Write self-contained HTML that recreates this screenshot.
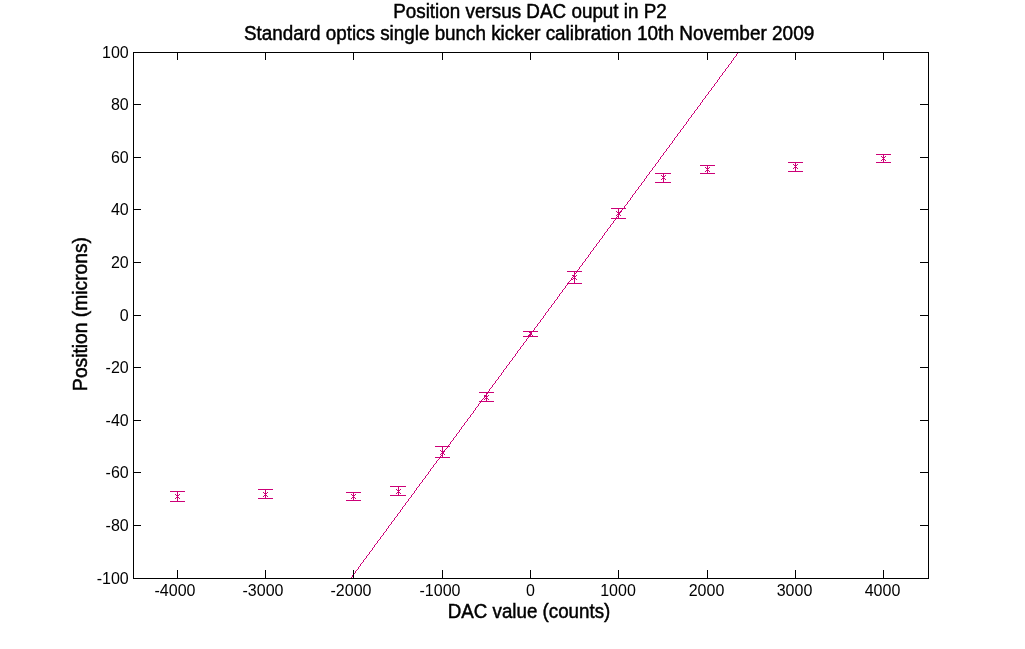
<!DOCTYPE html>
<html><head><meta charset="utf-8"><style>
html,body{margin:0;padding:0;background:#fff;width:1025px;height:649px;overflow:hidden}
svg{display:block;will-change:transform}
text{font-family:"Liberation Sans",sans-serif;fill:#000}
</style></head><body>
<svg width="1025" height="649" viewBox="0 0 1025 649">
<rect x="0" y="0" width="1025" height="649" fill="#fff"/>

<path d="M737 53h1v1h-1zM736 54h1v1h-1zM736 55h1v1h-1zM735 56h1v1h-1zM734 57h1v1h-1zM733 58h1v1h-1zM733 59h1v1h-1zM732 60h1v1h-1zM731 61h1v1h-1zM731 62h1v1h-1zM730 63h1v1h-1zM729 64h1v1h-1zM728 65h1v1h-1zM728 66h1v1h-1zM727 67h1v1h-1zM726 68h1v1h-1zM725 69h1v1h-1zM725 70h1v1h-1zM724 71h1v1h-1zM723 72h1v1h-1zM722 73h1v1h-1zM722 74h1v1h-1zM721 75h1v1h-1zM720 76h1v1h-1zM719 77h1v1h-1zM719 78h1v1h-1zM718 79h1v1h-1zM717 80h1v1h-1zM717 81h1v1h-1zM716 82h1v1h-1zM715 83h1v1h-1zM714 84h1v1h-1zM714 85h1v1h-1zM713 86h1v1h-1zM712 87h1v1h-1zM711 88h1v1h-1zM711 89h1v1h-1zM710 90h1v1h-1zM709 91h1v1h-1zM708 92h1v1h-1zM708 93h1v1h-1zM707 94h1v1h-1zM706 95h1v1h-1zM705 96h1v1h-1zM705 97h1v1h-1zM704 98h1v1h-1zM703 99h1v1h-1zM702 100h1v1h-1zM702 101h1v1h-1zM701 102h1v1h-1zM700 103h1v1h-1zM700 104h1v1h-1zM699 105h1v1h-1zM698 106h1v1h-1zM697 107h1v1h-1zM697 108h1v1h-1zM696 109h1v1h-1zM695 110h1v1h-1zM694 111h1v1h-1zM694 112h1v1h-1zM693 113h1v1h-1zM692 114h1v1h-1zM691 115h1v1h-1zM691 116h1v1h-1zM690 117h1v1h-1zM689 118h1v1h-1zM688 119h1v1h-1zM688 120h1v1h-1zM687 121h1v1h-1zM686 122h1v1h-1zM686 123h1v1h-1zM685 124h1v1h-1zM684 125h1v1h-1zM683 126h1v1h-1zM683 127h1v1h-1zM682 128h1v1h-1zM681 129h1v1h-1zM680 130h1v1h-1zM680 131h1v1h-1zM679 132h1v1h-1zM678 133h1v1h-1zM677 134h1v1h-1zM677 135h1v1h-1zM676 136h1v1h-1zM675 137h1v1h-1zM674 138h1v1h-1zM674 139h1v1h-1zM673 140h1v1h-1zM672 141h1v1h-1zM672 142h1v1h-1zM671 143h1v1h-1zM670 144h1v1h-1zM669 145h1v1h-1zM669 146h1v1h-1zM668 147h1v1h-1zM667 148h1v1h-1zM666 149h1v1h-1zM666 150h1v1h-1zM665 151h1v1h-1zM664 152h1v1h-1zM663 153h1v1h-1zM663 154h1v1h-1zM662 155h1v1h-1zM661 156h1v1h-1zM660 157h1v1h-1zM660 158h1v1h-1zM659 159h1v1h-1zM658 160h1v1h-1zM658 161h1v1h-1zM657 162h1v1h-1zM656 163h1v1h-1zM655 164h1v1h-1zM655 165h1v1h-1zM654 166h1v1h-1zM653 167h1v1h-1zM652 168h1v1h-1zM652 169h1v1h-1zM651 170h1v1h-1zM650 171h1v1h-1zM649 172h1v1h-1zM649 173h1v1h-1zM648 174h1v1h-1zM647 175h1v1h-1zM646 176h1v1h-1zM646 177h1v1h-1zM645 178h1v1h-1zM644 179h1v1h-1zM644 180h1v1h-1zM643 181h1v1h-1zM642 182h1v1h-1zM641 183h1v1h-1zM641 184h1v1h-1zM640 185h1v1h-1zM639 186h1v1h-1zM638 187h1v1h-1zM638 188h1v1h-1zM637 189h1v1h-1zM636 190h1v1h-1zM635 191h1v1h-1zM635 192h1v1h-1zM634 193h1v1h-1zM633 194h1v1h-1zM632 195h1v1h-1zM632 196h1v1h-1zM631 197h1v1h-1zM630 198h1v1h-1zM630 199h1v1h-1zM629 200h1v1h-1zM628 201h1v1h-1zM627 202h1v1h-1zM627 203h1v1h-1zM626 204h1v1h-1zM625 205h1v1h-1zM624 206h1v1h-1zM624 207h1v1h-1zM623 208h1v1h-1zM622 209h1v1h-1zM621 210h1v1h-1zM621 211h1v1h-1zM620 212h1v1h-1zM619 213h1v1h-1zM618 214h1v1h-1zM618 215h1v1h-1zM617 216h1v1h-1zM616 217h1v1h-1zM616 218h1v1h-1zM615 219h1v1h-1zM614 220h1v1h-1zM613 221h1v1h-1zM613 222h1v1h-1zM612 223h1v1h-1zM611 224h1v1h-1zM610 225h1v1h-1zM610 226h1v1h-1zM609 227h1v1h-1zM608 228h1v1h-1zM607 229h1v1h-1zM607 230h1v1h-1zM606 231h1v1h-1zM605 232h1v1h-1zM604 233h1v1h-1zM604 234h1v1h-1zM603 235h1v1h-1zM602 236h1v1h-1zM602 237h1v1h-1zM601 238h1v1h-1zM600 239h1v1h-1zM599 240h1v1h-1zM599 241h1v1h-1zM598 242h1v1h-1zM597 243h1v1h-1zM596 244h1v1h-1zM596 245h1v1h-1zM595 246h1v1h-1zM594 247h1v1h-1zM593 248h1v1h-1zM593 249h1v1h-1zM592 250h1v1h-1zM591 251h1v1h-1zM590 252h1v1h-1zM590 253h1v1h-1zM589 254h1v1h-1zM588 255h1v1h-1zM588 256h1v1h-1zM587 257h1v1h-1zM586 258h1v1h-1zM585 259h1v1h-1zM585 260h1v1h-1zM584 261h1v1h-1zM583 262h1v1h-1zM582 263h1v1h-1zM582 264h1v1h-1zM581 265h1v1h-1zM580 266h1v1h-1zM579 267h1v1h-1zM579 268h1v1h-1zM578 269h1v1h-1zM577 270h1v1h-1zM576 271h1v1h-1zM576 272h1v1h-1zM575 273h1v1h-1zM574 274h1v1h-1zM573 275h1v1h-1zM573 276h1v1h-1zM572 277h1v1h-1zM571 278h1v1h-1zM571 279h1v1h-1zM570 280h1v1h-1zM569 281h1v1h-1zM568 282h1v1h-1zM568 283h1v1h-1zM567 284h1v1h-1zM566 285h1v1h-1zM565 286h1v1h-1zM565 287h1v1h-1zM564 288h1v1h-1zM563 289h1v1h-1zM562 290h1v1h-1zM562 291h1v1h-1zM561 292h1v1h-1zM560 293h1v1h-1zM559 294h1v1h-1zM559 295h1v1h-1zM558 296h1v1h-1zM557 297h1v1h-1zM557 298h1v1h-1zM556 299h1v1h-1zM555 300h1v1h-1zM554 301h1v1h-1zM554 302h1v1h-1zM553 303h1v1h-1zM552 304h1v1h-1zM551 305h1v1h-1zM551 306h1v1h-1zM550 307h1v1h-1zM549 308h1v1h-1zM548 309h1v1h-1zM548 310h1v1h-1zM547 311h1v1h-1zM546 312h1v1h-1zM545 313h1v1h-1zM545 314h1v1h-1zM544 315h1v1h-1zM543 316h1v1h-1zM543 317h1v1h-1zM542 318h1v1h-1zM541 319h1v1h-1zM540 320h1v1h-1zM540 321h1v1h-1zM539 322h1v1h-1zM538 323h1v1h-1zM537 324h1v1h-1zM537 325h1v1h-1zM536 326h1v1h-1zM535 327h1v1h-1zM534 328h1v1h-1zM534 329h1v1h-1zM533 330h1v1h-1zM532 331h1v1h-1zM531 332h1v1h-1zM531 333h1v1h-1zM530 334h1v1h-1zM529 335h1v1h-1zM529 336h1v1h-1zM528 337h1v1h-1zM527 338h1v1h-1zM526 339h1v1h-1zM526 340h1v1h-1zM525 341h1v1h-1zM524 342h1v1h-1zM523 343h1v1h-1zM523 344h1v1h-1zM522 345h1v1h-1zM521 346h1v1h-1zM520 347h1v1h-1zM520 348h1v1h-1zM519 349h1v1h-1zM518 350h1v1h-1zM517 351h1v1h-1zM517 352h1v1h-1zM516 353h1v1h-1zM515 354h1v1h-1zM515 355h1v1h-1zM514 356h1v1h-1zM513 357h1v1h-1zM512 358h1v1h-1zM512 359h1v1h-1zM511 360h1v1h-1zM510 361h1v1h-1zM509 362h1v1h-1zM509 363h1v1h-1zM508 364h1v1h-1zM507 365h1v1h-1zM506 366h1v1h-1zM506 367h1v1h-1zM505 368h1v1h-1zM504 369h1v1h-1zM503 370h1v1h-1zM503 371h1v1h-1zM502 372h1v1h-1zM501 373h1v1h-1zM501 374h1v1h-1zM500 375h1v1h-1zM499 376h1v1h-1zM498 377h1v1h-1zM498 378h1v1h-1zM497 379h1v1h-1zM496 380h1v1h-1zM495 381h1v1h-1zM495 382h1v1h-1zM494 383h1v1h-1zM493 384h1v1h-1zM492 385h1v1h-1zM492 386h1v1h-1zM491 387h1v1h-1zM490 388h1v1h-1zM489 389h1v1h-1zM489 390h1v1h-1zM488 391h1v1h-1zM487 392h1v1h-1zM487 393h1v1h-1zM486 394h1v1h-1zM485 395h1v1h-1zM484 396h1v1h-1zM484 397h1v1h-1zM483 398h1v1h-1zM482 399h1v1h-1zM481 400h1v1h-1zM481 401h1v1h-1zM480 402h1v1h-1zM479 403h1v1h-1zM478 404h1v1h-1zM478 405h1v1h-1zM477 406h1v1h-1zM476 407h1v1h-1zM475 408h1v1h-1zM475 409h1v1h-1zM474 410h1v1h-1zM473 411h1v1h-1zM473 412h1v1h-1zM472 413h1v1h-1zM471 414h1v1h-1zM470 415h1v1h-1zM470 416h1v1h-1zM469 417h1v1h-1zM468 418h1v1h-1zM467 419h1v1h-1zM467 420h1v1h-1zM466 421h1v1h-1zM465 422h1v1h-1zM464 423h1v1h-1zM464 424h1v1h-1zM463 425h1v1h-1zM462 426h1v1h-1zM461 427h1v1h-1zM461 428h1v1h-1zM460 429h1v1h-1zM459 430h1v1h-1zM459 431h1v1h-1zM458 432h1v1h-1zM457 433h1v1h-1zM456 434h1v1h-1zM456 435h1v1h-1zM455 436h1v1h-1zM454 437h1v1h-1zM453 438h1v1h-1zM453 439h1v1h-1zM452 440h1v1h-1zM451 441h1v1h-1zM450 442h1v1h-1zM450 443h1v1h-1zM449 444h1v1h-1zM448 445h1v1h-1zM447 446h1v1h-1zM447 447h1v1h-1zM446 448h1v1h-1zM445 449h1v1h-1zM444 450h1v1h-1zM444 451h1v1h-1zM443 452h1v1h-1zM442 453h1v1h-1zM442 454h1v1h-1zM441 455h1v1h-1zM440 456h1v1h-1zM439 457h1v1h-1zM439 458h1v1h-1zM438 459h1v1h-1zM437 460h1v1h-1zM436 461h1v1h-1zM436 462h1v1h-1zM435 463h1v1h-1zM434 464h1v1h-1zM433 465h1v1h-1zM433 466h1v1h-1zM432 467h1v1h-1zM431 468h1v1h-1zM430 469h1v1h-1zM430 470h1v1h-1zM429 471h1v1h-1zM428 472h1v1h-1zM428 473h1v1h-1zM427 474h1v1h-1zM426 475h1v1h-1zM425 476h1v1h-1zM425 477h1v1h-1zM424 478h1v1h-1zM423 479h1v1h-1zM422 480h1v1h-1zM422 481h1v1h-1zM421 482h1v1h-1zM420 483h1v1h-1zM419 484h1v1h-1zM419 485h1v1h-1zM418 486h1v1h-1zM417 487h1v1h-1zM416 488h1v1h-1zM416 489h1v1h-1zM415 490h1v1h-1zM414 491h1v1h-1zM414 492h1v1h-1zM413 493h1v1h-1zM412 494h1v1h-1zM411 495h1v1h-1zM411 496h1v1h-1zM410 497h1v1h-1zM409 498h1v1h-1zM408 499h1v1h-1zM408 500h1v1h-1zM407 501h1v1h-1zM406 502h1v1h-1zM405 503h1v1h-1zM405 504h1v1h-1zM404 505h1v1h-1zM403 506h1v1h-1zM402 507h1v1h-1zM402 508h1v1h-1zM401 509h1v1h-1zM400 510h1v1h-1zM400 511h1v1h-1zM399 512h1v1h-1zM398 513h1v1h-1zM397 514h1v1h-1zM397 515h1v1h-1zM396 516h1v1h-1zM395 517h1v1h-1zM394 518h1v1h-1zM394 519h1v1h-1zM393 520h1v1h-1zM392 521h1v1h-1zM391 522h1v1h-1zM391 523h1v1h-1zM390 524h1v1h-1zM389 525h1v1h-1zM388 526h1v1h-1zM388 527h1v1h-1zM387 528h1v1h-1zM386 529h1v1h-1zM386 530h1v1h-1zM385 531h1v1h-1zM384 532h1v1h-1zM383 533h1v1h-1zM383 534h1v1h-1zM382 535h1v1h-1zM381 536h1v1h-1zM380 537h1v1h-1zM380 538h1v1h-1zM379 539h1v1h-1zM378 540h1v1h-1zM377 541h1v1h-1zM377 542h1v1h-1zM376 543h1v1h-1zM375 544h1v1h-1zM374 545h1v1h-1zM374 546h1v1h-1zM373 547h1v1h-1zM372 548h1v1h-1zM372 549h1v1h-1zM371 550h1v1h-1zM370 551h1v1h-1zM369 552h1v1h-1zM369 553h1v1h-1zM368 554h1v1h-1zM367 555h1v1h-1zM366 556h1v1h-1zM366 557h1v1h-1zM365 558h1v1h-1zM364 559h1v1h-1zM363 560h1v1h-1zM363 561h1v1h-1zM362 562h1v1h-1zM361 563h1v1h-1zM360 564h1v1h-1zM360 565h1v1h-1zM359 566h1v1h-1zM358 567h1v1h-1zM358 568h1v1h-1zM357 569h1v1h-1zM356 570h1v1h-1zM355 571h1v1h-1zM355 572h1v1h-1zM354 573h1v1h-1zM353 574h1v1h-1zM352 575h1v1h-1zM352 576h1v1h-1zM351 577h1v1h-1z" fill="#CC0077" shape-rendering="crispEdges"/>
<path d="M177.5 491.5V501.5M170 491.5H185M170 501.5H185M265.5 489.5V498.5M258 489.5H273M258 498.5H273M353.5 492.5V500.5M346 492.5H361M346 500.5H361M398.5 486.5V495.5M390 486.5H406M390 495.5H406M442.5 446.5V457.5M435 446.5H450M435 457.5H450M486.5 392.5V401.5M479 392.5H494M479 401.5H494M530.5 331.5V336.5M523 331.5H538M523 336.5H538M574.5 271.5V283.5M567 271.5H582M567 283.5H582M618.5 208.5V218.5M611 208.5H626M611 218.5H626M663.5 173.5V182.5M655 173.5H671M655 182.5H671M707.5 165.5V173.5M700 165.5H715M700 173.5H715M795.5 162.5V171.5M788 162.5H803M788 171.5H803M883.5 154.5V162.5M876 154.5H891M876 162.5H891" stroke="#CC0077" stroke-width="1" fill="none" shape-rendering="crispEdges"/>
<g fill="#CC0077" shape-rendering="crispEdges"><rect x="795" y="166" width="1" height="1"/><rect x="665" y="175" width="1" height="1"/><rect x="488" y="399" width="1" height="1"/><rect x="440" y="450" width="1" height="1"/><rect x="351" y="494" width="1" height="1"/><rect x="572" y="279" width="1" height="1"/><rect x="484" y="395" width="1" height="1"/><rect x="881" y="156" width="1" height="1"/><rect x="882" y="157" width="1" height="1"/><rect x="441" y="451" width="1" height="1"/><rect x="178" y="495" width="1" height="1"/><rect x="179" y="494" width="1" height="1"/><rect x="354" y="495" width="1" height="1"/><rect x="884" y="157" width="1" height="1"/><rect x="443" y="451" width="1" height="1"/><rect x="177" y="496" width="1" height="1"/><rect x="400" y="489" width="1" height="1"/><rect x="793" y="164" width="1" height="1"/><rect x="882" y="159" width="1" height="1"/><rect x="797" y="164" width="1" height="1"/><rect x="441" y="453" width="1" height="1"/><rect x="442" y="452" width="1" height="1"/><rect x="619" y="212" width="1" height="1"/><rect x="665" y="179" width="1" height="1"/><rect x="398" y="491" width="1" height="1"/><rect x="620" y="211" width="1" height="1"/><rect x="354" y="497" width="1" height="1"/><rect x="884" y="159" width="1" height="1"/><rect x="661" y="175" width="1" height="1"/><rect x="796" y="165" width="1" height="1"/><rect x="440" y="454" width="1" height="1"/><rect x="443" y="453" width="1" height="1"/><rect x="484" y="399" width="1" height="1"/><rect x="485" y="398" width="1" height="1"/><rect x="444" y="454" width="1" height="1"/><rect x="662" y="176" width="1" height="1"/><rect x="619" y="214" width="1" height="1"/><rect x="179" y="498" width="1" height="1"/><rect x="355" y="498" width="1" height="1"/><rect x="528" y="331" width="1" height="1"/><rect x="885" y="160" width="1" height="1"/><rect x="796" y="167" width="1" height="1"/><rect x="664" y="176" width="1" height="1"/><rect x="175" y="494" width="1" height="1"/><rect x="662" y="178" width="1" height="1"/><rect x="797" y="168" width="1" height="1"/><rect x="663" y="177" width="1" height="1"/><rect x="396" y="489" width="1" height="1"/><rect x="620" y="215" width="1" height="1"/><rect x="532" y="331" width="1" height="1"/><rect x="661" y="179" width="1" height="1"/><rect x="616" y="211" width="1" height="1"/><rect x="705" y="167" width="1" height="1"/><rect x="399" y="490" width="1" height="1"/><rect x="709" y="167" width="1" height="1"/><rect x="617" y="212" width="1" height="1"/><rect x="573" y="276" width="1" height="1"/><rect x="397" y="490" width="1" height="1"/><rect x="178" y="497" width="1" height="1"/><rect x="794" y="165" width="1" height="1"/><rect x="707" y="169" width="1" height="1"/><rect x="708" y="168" width="1" height="1"/><rect x="175" y="498" width="1" height="1"/><rect x="264" y="493" width="1" height="1"/><rect x="351" y="498" width="1" height="1"/><rect x="881" y="160" width="1" height="1"/><rect x="399" y="492" width="1" height="1"/><rect x="618" y="213" width="1" height="1"/><rect x="397" y="492" width="1" height="1"/><rect x="532" y="335" width="1" height="1"/><rect x="266" y="493" width="1" height="1"/><rect x="267" y="492" width="1" height="1"/><rect x="794" y="167" width="1" height="1"/><rect x="708" y="170" width="1" height="1"/><rect x="616" y="215" width="1" height="1"/><rect x="264" y="495" width="1" height="1"/><rect x="265" y="494" width="1" height="1"/><rect x="400" y="493" width="1" height="1"/><rect x="793" y="168" width="1" height="1"/><rect x="709" y="171" width="1" height="1"/><rect x="529" y="332" width="1" height="1"/><rect x="176" y="495" width="1" height="1"/><rect x="266" y="495" width="1" height="1"/><rect x="531" y="332" width="1" height="1"/><rect x="487" y="396" width="1" height="1"/><rect x="664" y="178" width="1" height="1"/><rect x="529" y="334" width="1" height="1"/><rect x="530" y="333" width="1" height="1"/><rect x="576" y="275" width="1" height="1"/><rect x="176" y="497" width="1" height="1"/><rect x="267" y="496" width="1" height="1"/><rect x="706" y="168" width="1" height="1"/><rect x="528" y="335" width="1" height="1"/><rect x="531" y="334" width="1" height="1"/><rect x="487" y="398" width="1" height="1"/><rect x="263" y="492" width="1" height="1"/><rect x="574" y="277" width="1" height="1"/><rect x="575" y="276" width="1" height="1"/><rect x="617" y="214" width="1" height="1"/><rect x="573" y="278" width="1" height="1"/><rect x="396" y="493" width="1" height="1"/><rect x="706" y="170" width="1" height="1"/><rect x="444" y="450" width="1" height="1"/><rect x="575" y="278" width="1" height="1"/><rect x="705" y="171" width="1" height="1"/><rect x="352" y="495" width="1" height="1"/><rect x="355" y="494" width="1" height="1"/><rect x="576" y="279" width="1" height="1"/><rect x="488" y="395" width="1" height="1"/><rect x="885" y="156" width="1" height="1"/><rect x="485" y="396" width="1" height="1"/><rect x="572" y="275" width="1" height="1"/><rect x="263" y="496" width="1" height="1"/><rect x="353" y="496" width="1" height="1"/><rect x="883" y="158" width="1" height="1"/><rect x="486" y="397" width="1" height="1"/><rect x="352" y="497" width="1" height="1"/></g>
<path d="M133 52.5H929M133 578.5H929M133.5 52V579M928.5 52V579M133 52.5H141M920 52.5H929M133 104.5H141M920 104.5H929M133 157.5H141M920 157.5H929M133 209.5H141M920 209.5H929M133 262.5H141M920 262.5H929M133 315.5H141M920 315.5H929M133 367.5H141M920 367.5H929M133 420.5H141M920 420.5H929M133 472.5H141M920 472.5H929M133 525.5H141M920 525.5H929M133 578.5H141M920 578.5H929M177.5 570V579M177.5 52V60M265.5 570V579M265.5 52V60M353.5 570V579M353.5 52V60M442.5 570V579M442.5 52V60M530.5 570V579M530.5 52V60M618.5 570V579M618.5 52V60M707.5 570V579M707.5 52V60M795.5 570V579M795.5 52V60M883.5 570V579M883.5 52V60" stroke="#000" stroke-width="1" fill="none" shape-rendering="crispEdges"/>
<text x="128.7" y="58" font-size="16" text-anchor="end">100</text>
<text x="128.7" y="110" font-size="16" text-anchor="end">80</text>
<text x="128.7" y="163" font-size="16" text-anchor="end">60</text>
<text x="128.7" y="215" font-size="16" text-anchor="end">40</text>
<text x="128.7" y="268" font-size="16" text-anchor="end">20</text>
<text x="128.7" y="321" font-size="16" text-anchor="end">0</text>
<text x="128.7" y="373" font-size="16" text-anchor="end">-20</text>
<text x="128.7" y="426" font-size="16" text-anchor="end">-40</text>
<text x="128.7" y="478" font-size="16" text-anchor="end">-60</text>
<text x="128.7" y="531" font-size="16" text-anchor="end">-80</text>
<text x="128.7" y="584" font-size="16" text-anchor="end">-100</text>
<text x="175.0" y="596" font-size="16" text-anchor="middle">-4000</text>
<text x="263.0" y="596" font-size="16" text-anchor="middle">-3000</text>
<text x="351.0" y="596" font-size="16" text-anchor="middle">-2000</text>
<text x="440.0" y="596" font-size="16" text-anchor="middle">-1000</text>
<text x="530.5" y="596" font-size="16" text-anchor="middle">0</text>
<text x="618.0" y="596" font-size="16" text-anchor="middle">1000</text>
<text x="706.5" y="596" font-size="16" text-anchor="middle">2000</text>
<text x="794.5" y="596" font-size="16" text-anchor="middle">3000</text>
<text x="882.5" y="596" font-size="16" text-anchor="middle">4000</text>
<text transform="translate(530 18) scale(0.993 1.07)" font-size="19" text-anchor="middle" stroke="#000" stroke-width="0.45">Position versus DAC ouput in P2</text>
<text transform="translate(244 40) scale(0.9923 1.07)" font-size="19" stroke="#000" stroke-width="0.45">Standard optics single bunch kicker calibration</text>
<text transform="translate(637 40) scale(1 1.07)" font-size="19" stroke="#000" stroke-width="0.45">10th November 2009</text>
<text transform="translate(529 618) scale(0.988 1.07)" font-size="19" text-anchor="middle" stroke="#000" stroke-width="0.45">DAC value (counts)</text>
<text transform="translate(87 314) rotate(-90) scale(1.013 1.07)" font-size="19" text-anchor="middle" stroke="#000" stroke-width="0.45">Position (microns)</text>
</svg></body></html>
